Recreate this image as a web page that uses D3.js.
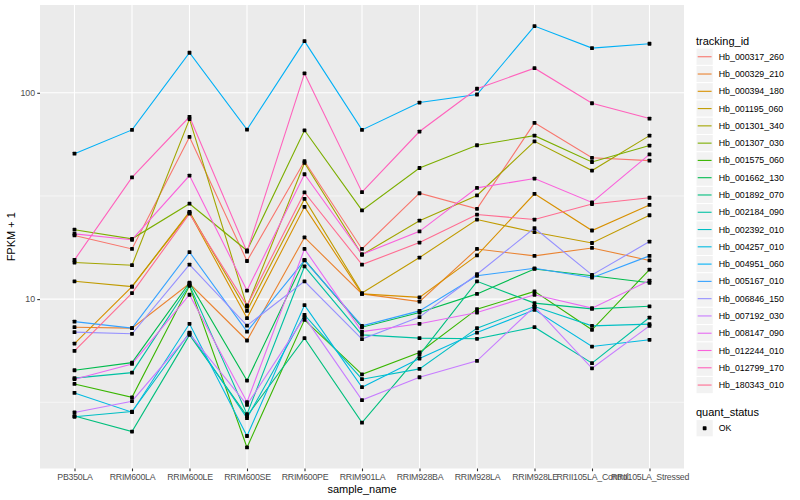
<!DOCTYPE html>
<html><head><meta charset="utf-8">
<script src="https://cdn.jsdelivr.net/npm/d3@7"></script>
<style>body{margin:0;background:#fff}svg{display:block;font-family:"Liberation Sans",Arial,Helvetica,sans-serif}</style>
</head><body><svg id="chart" width="800" height="500"></svg>
<script>
const samples = ["PB350LA","RRIM600LA","RRIM600LE","RRIM600SE","RRIM600PE","RRIM901LA","RRIM928BA","RRIM928LA","RRIM928LE","RRII105LA_Control","RRII105LA_Stressed"];
const trackingIds = ["Hb_000317_260","Hb_000329_210","Hb_000394_180","Hb_001195_060","Hb_001301_340","Hb_001307_030","Hb_001575_060","Hb_001662_130","Hb_001892_070","Hb_002184_090","Hb_002392_010","Hb_004257_010","Hb_004951_060","Hb_005167_010","Hb_006846_150","Hb_007192_030","Hb_008147_090","Hb_012244_010","Hb_012799_170","Hb_180343_010"];
const seriesColors = ["#F8766D","#EA8331","#D89000","#C09B00","#A3A500","#7CAE00","#39B600","#00BB4E","#00BF7D","#00C1A3","#00BFC4","#00BAE0","#00B0F6","#35A2FF","#9590FF","#C77CFF","#E76BF3","#FA62DB","#FF62BC","#FF6C91"];

const Hb_000317_260 = [20.35, 17.5, 61.1, 15.3, 46.6, 17.5, 32.6, 27.4, 71.5, 48.4, 46.9];
const Hb_000329_210 = [7.31, 7.23, 11.9, 6.30, 19.9, 10.6, 9.73, 17.5, 16.2, 17.7, 15.4];
const Hb_000394_180 = [6.09, 11.5, 26.2, 8.09, 28.0, 10.6, 10.2, 16.3, 32.4, 21.5, 28.6];
const Hb_001195_060 = [12.2, 11.5, 26.5, 8.77, 30.6, 10.7, 15.9, 24.3, 21.1, 18.7, 25.5];
const Hb_001301_340 = [15.05, 14.6, 74.6, 9.2, 45.7, 16.4, 24.0, 31.8, 58.2, 42.0, 62.0];
const Hb_001307_030 = [21.7, 19.6, 29.0, 17.2, 65.8, 26.9, 43.2, 55.7, 62.0, 46.2, 55.5];
const Hb_001575_060 = [3.88, 3.34, 11.6, 1.91, 7.93, 4.32, 5.51, 8.94, 10.9, 7.10, 13.9];
const Hb_001662_130 = [4.52, 4.92, 12.0, 4.03, 15.5, 7.31, 8.61, 10.6, 14.0, 12.97, 12.0];
const Hb_001892_070 = [2.71, 2.28, 6.71, 2.71, 6.47, 2.52, 5.37, 12.2, 9.56, 8.97, 9.23];
const Hb_002184_090 = [4.14, 4.40, 11.7, 2.77, 14.4, 6.71, 6.47, 6.42, 7.31, 4.89, 8.14];
const Hb_002392_010 = [2.69, 2.85, 6.88, 2.65, 8.39, 4.09, 4.59, 7.23, 9.2, 7.42, 7.56];
const Hb_004257_010 = [3.51, 2.83, 7.59, 2.17, 9.35, 3.74, 5.15, 6.88, 8.87, 5.89, 6.35];
const Hb_004951_060 = [50.7, 66.1, 156.4, 66.3, 178.1, 66.1, 89.7, 98.1, 210.6, 164.7, 172.9];
const Hb_005167_010 = [7.78, 7.23, 16.9, 6.96, 15.4, 7.42, 8.77, 12.97, 14.1, 12.7, 16.2];
const Hb_006846_150 = [6.92, 6.79, 14.7, 7.44, 12.2, 6.40, 8.18, 13.2, 22.1, 13.1, 19.0];
const Hb_007192_030 = [2.82, 3.20, 6.79, 3.07, 8.18, 3.24, 4.18, 5.02, 9.2, 4.62, 7.42];
const Hb_008147_090 = [4.09, 4.85, 10.5, 3.17, 17.5, 6.96, 7.59, 8.61, 10.5, 9.04, 12.3];
const Hb_012244_010 = [20.7, 19.4, 39.7, 11.0, 40.3, 16.5, 21.3, 34.6, 38.4, 29.4, 50.3];
const Hb_012799_170 = [15.5, 38.9, 76.5, 16.97, 124.1, 33.0, 64.9, 104.6, 131.6, 89.0, 75.0];
const Hb_180343_010 = [5.61, 10.7, 25.95, 9.31, 32.9, 14.7, 18.8, 25.7, 24.3, 28.9, 31.0];

const yTickValues = [10, 100];
const yTickLabels = ["10", "100"];
const yMinorValues = [3.1623, 31.623];
const quantStatus = ["OK"];

const seriesValues = [Hb_000317_260,Hb_000329_210,Hb_000394_180,Hb_001195_060,Hb_001301_340,Hb_001307_030,Hb_001575_060,Hb_001662_130,Hb_001892_070,Hb_002184_090,Hb_002392_010,Hb_004257_010,Hb_004951_060,Hb_005167_010,Hb_006846_150,Hb_007192_030,Hb_008147_090,Hb_012244_010,Hb_012799_170,Hb_180343_010];
const series = trackingIds.map((id, i) => ({id, color: seriesColors[i], points: samples.map((s, j) => ({sample: s, value: seriesValues[i][j]}))}));

const svg = d3.select("#chart");
const P = {left: 40, right: 684, top: 5, bottom: 468.5};

const allVals = seriesValues.flat();
const lmin = Math.log10(d3.min(allVals)), lmax = Math.log10(d3.max(allVals));
const pad = (lmax - lmin) * 0.05;
const y = d3.scaleLog().domain([Math.pow(10, lmin - pad), Math.pow(10, lmax + pad)]).range([P.bottom, P.top]);
const x = d3.scalePoint().domain(samples).range([P.left, P.right]).padding(0.6);

svg.append("rect").attr("x", P.left).attr("y", P.top).attr("width", P.right - P.left).attr("height", P.bottom - P.top).attr("fill", "#EBEBEB");

const grid = svg.append("g");
grid.selectAll(".minor").data(yMinorValues).enter().append("line")
  .attr("x1", P.left).attr("x2", P.right).attr("y1", d => y(d)).attr("y2", d => y(d))
  .attr("stroke", "#fff").attr("stroke-width", 0.55);
grid.selectAll(".majorY").data(yTickValues).enter().append("line")
  .attr("x1", P.left).attr("x2", P.right).attr("y1", d => y(d)).attr("y2", d => y(d))
  .attr("stroke", "#fff").attr("stroke-width", 1.1);
grid.selectAll(".majorX").data(samples).enter().append("line")
  .attr("x1", d => x(d)).attr("x2", d => x(d)).attr("y1", P.top).attr("y2", P.bottom)
  .attr("stroke", "#fff").attr("stroke-width", 1.1);

const line = d3.line().x(d => x(d.sample)).y(d => y(d.value));
svg.append("g").selectAll("path").data(series).enter().append("path")
  .attr("d", d => line(d.points)).attr("fill", "none").attr("stroke", d => d.color).attr("stroke-width", 1.1);

const ps = 3.8;
svg.append("g").selectAll("rect").data(series.flatMap(s => s.points)).enter().append("rect")
  .attr("x", d => x(d.sample) - ps / 2).attr("y", d => y(d.value) - ps / 2).attr("width", ps).attr("height", ps).attr("rx", 0.6).attr("fill", "#000");

// axes
const yAxis = svg.append("g").attr("transform", `translate(${P.left},0)`)
  .call(d3.axisLeft(y).tickValues(yTickValues).tickFormat((d, i) => yTickLabels[i]).tickSize(2.75).tickPadding(2.2));
const xAxis = svg.append("g").attr("transform", `translate(0,${P.bottom})`)
  .call(d3.axisBottom(x).tickSize(2.75).tickPadding(2.2));
[yAxis, xAxis].forEach(a => {
  a.select(".domain").remove();
  a.selectAll(".tick line").attr("stroke", "#333333").attr("stroke-width", 1.1);
  a.selectAll(".tick text").attr("fill", "#4D4D4D").style("font-size", "8.8px").style("font-family", '"Liberation Sans",Arial,sans-serif');
});
xAxis.selectAll(".tick text").style("letter-spacing", "-0.25px");

svg.append("text").attr("x", (P.left + P.right) / 2).attr("y", 492.5).attr("text-anchor", "middle")
  .style("font-size", "11px").attr("fill", "#000").text("sample_name");
svg.append("text").attr("transform", `translate(14.5,${(P.top + P.bottom) / 2}) rotate(-90)`).attr("text-anchor", "middle")
  .style("font-size", "11px").attr("fill", "#000").text("FPKM + 1");

// legend tracking_id
const lg = svg.append("g");
const keyX = 696, keyS = 17.28, key0 = 48.1;
lg.append("text").attr("x", keyX).attr("y", 44.5).style("font-size", "11px").attr("fill", "#000").text("tracking_id");
const items = lg.selectAll(".item").data(series).enter().append("g").attr("transform", (d, i) => `translate(${keyX},${key0 + i * keyS})`);
items.append("rect").attr("width", keyS).attr("height", keyS).attr("fill", "#F2F2F2").attr("stroke", "#fff").attr("stroke-width", 1);
items.append("line").attr("x1", 1.7).attr("x2", keyS - 1.7).attr("y1", keyS / 2).attr("y2", keyS / 2).attr("stroke", d => d.color).attr("stroke-width", 1.1);
items.append("text").attr("x", keyS + 5.5).attr("y", keyS / 2).attr("dy", "0.35em").style("font-size", "8.8px").attr("fill", "#000").text(d => d.id);

// legend quant_status
const q0 = 419.6;
lg.append("text").attr("x", keyX).attr("y", 416).style("font-size", "11px").attr("fill", "#000").text("quant_status");
const qi = lg.selectAll(".q").data(quantStatus).enter().append("g").attr("transform", (d, i) => `translate(${keyX},${q0 + i * keyS})`);
qi.append("rect").attr("width", keyS).attr("height", keyS).attr("fill", "#F2F2F2").attr("stroke", "#fff");
qi.append("rect").attr("x", keyS / 2 - ps / 2).attr("y", keyS / 2 - ps / 2).attr("width", ps).attr("height", ps).attr("rx", 0.6).attr("fill", "#000");
qi.append("text").attr("x", keyS + 5.5).attr("y", keyS / 2).attr("dy", "0.35em").style("font-size", "8.8px").attr("fill", "#000").text(d => d);
</script></body></html>
